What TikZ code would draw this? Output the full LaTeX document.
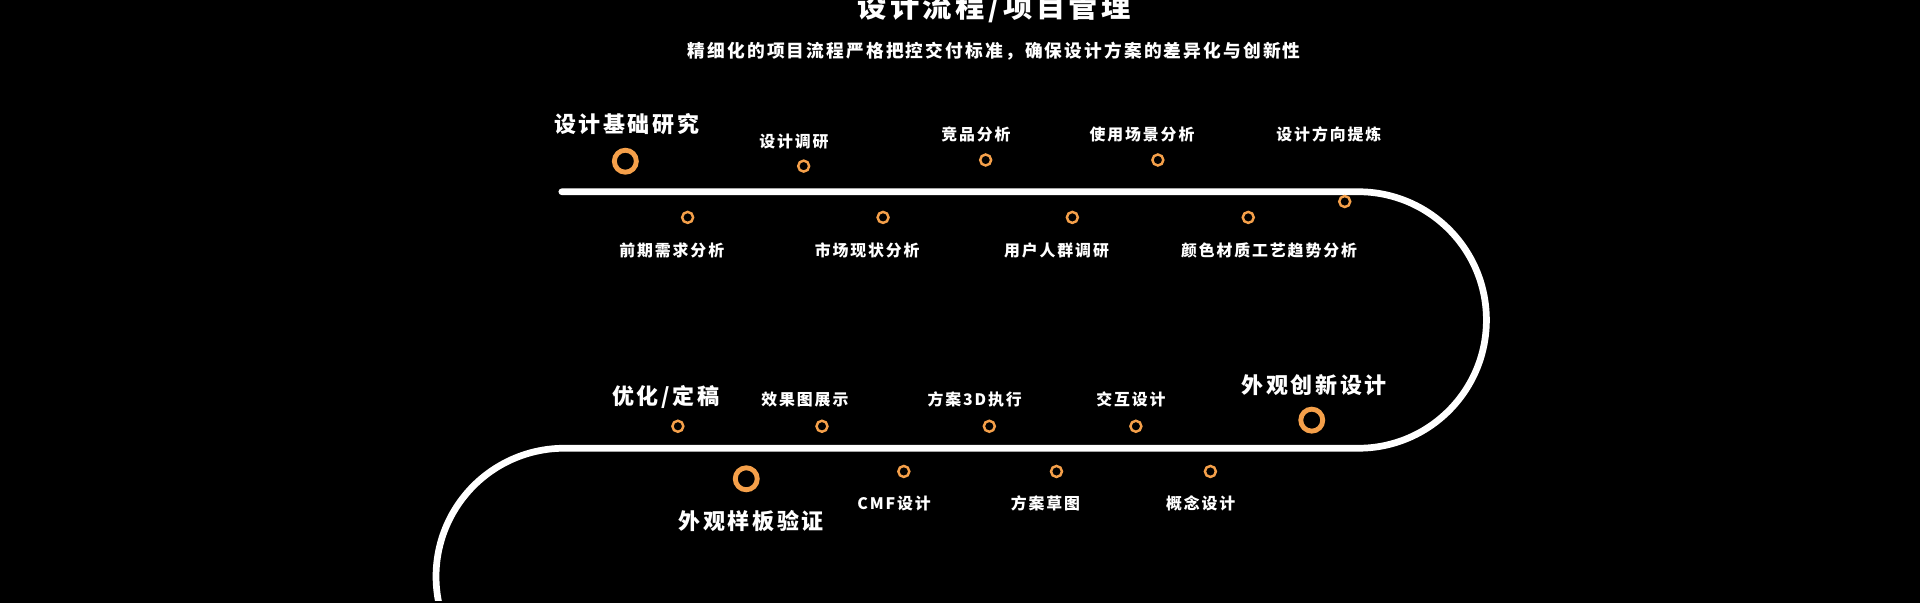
\documentclass[tikz,border=0pt]{standalone}
\usepackage{fontspec}
\newfontfamily\cjk[LetterSpace=12]{Noto Sans CJK SC}
\definecolor{org}{HTML}{F5A04A}
\begin{document}
\begin{tikzpicture}[x=1pt,y=-1pt,
  lab/.style={font=\cjk\bfseries\fontsize{13}{13}\selectfont,text=white},
  big/.style={font=\cjk\bfseries\fontsize{18}{18}\selectfont,text=white},
  sring/.style={circle,draw=org,line width=2pt,minimum size=9pt,inner sep=0pt},
  bring/.style={circle,draw=org,line width=4pt,minimum size=18pt,inner sep=0pt}]
\fill[black] (-2,-2) rectangle (1570,492);
\useasboundingbox (0,0) rectangle (1568,490);
\begin{scope}
\clip (0,0) rectangle (1568,490);
\draw[white,line width=5.5pt,line cap=round] (458,155) -- (1110,155) arc[start angle=-90,end angle=90,radius=105] -- (460,365) arc[start angle=-90,end angle=-200,radius=105];
\end{scope}
\node[font=\cjk\bfseries\fontsize{24}{24}\selectfont,text=white] (t) at (812,4) {设计流程/项目管理};
\node[font=\cjk\bfseries\fontsize{14.5}{14.5}\selectfont,text=white] (s) at (812,40) {精细化的项目流程严格把控交付标准，确保设计方案的差异化与创新性};
\node[bring] (b1) at (510,130) {};
\node[bring] (b2) at (1072,342) {};
\node[bring] (b3) at (609,390) {};
\foreach \n/\x/\y in {a1/656/134,a2/805/129,a3/946/129,a4/1099/163,
 c1/561/176,c2/721/176,c3/876/176,c4/1020/176,
 d1/553/347,d2/671/347,d3/808/347,d4/928/347,
 e1/738/384,e2/863/384,e3/989/384}
 \node[sring] (\n) at (\x,\y) {};
\node[big] (l1) at (511,100) {设计基础研究};
\node[lab] (l2) at (648,114) {设计调研};
\node[lab] (l3) at (797,108) {竞品分析};
\node[lab] (l4) at (933,108) {使用场景分析};
\node[lab] (l5) at (1086,108) {设计方向提炼};
\node[lab] (l6) at (548,203) {前期需求分析};
\node[lab] (l7) at (708,203) {市场现状分析};
\node[lab] (l8) at (863,203) {用户人群调研};
\node[lab] (l9) at (1037,203) {颜色材质工艺趋势分析};
\node[big] (l10) at (543,323) {优化/定稿};
\node[lab] (l11) at (657,325) {效果图展示};
\node[lab] (l12) at (796,325) {方案3D执行};
\node[lab] (l13) at (924,325) {交互设计};
\node[big] (l14) at (1074,313) {外观创新设计};
\node[big] (l15) at (613,425) {外观样板验证};
\node[lab] (l16) at (730,410) {CMF设计};
\node[lab] (l17) at (854,410) {方案草图};
\node[lab] (l18) at (981,410) {概念设计};
\end{tikzpicture}
\end{document}
